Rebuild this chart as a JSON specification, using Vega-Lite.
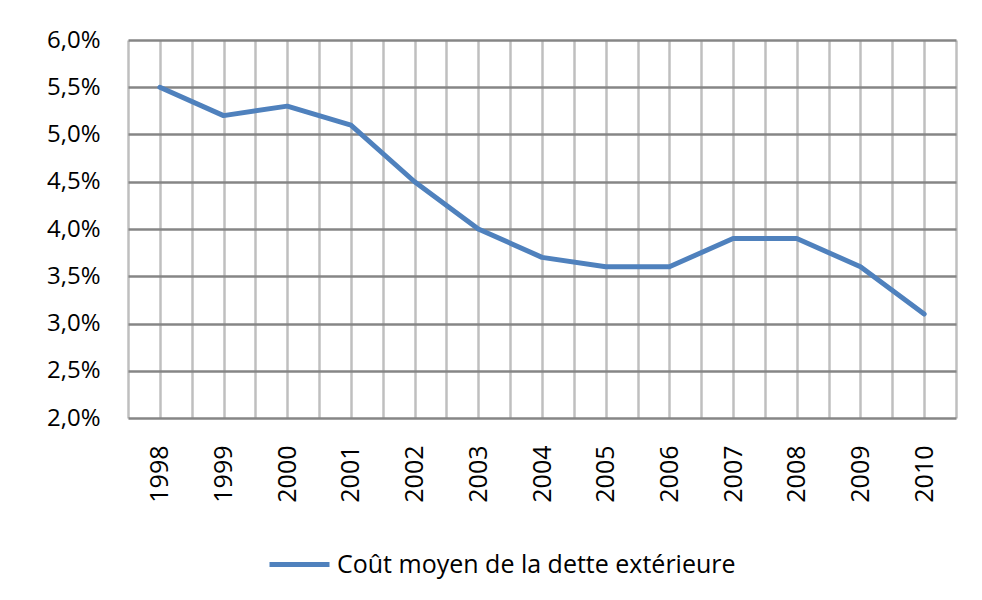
{
  "$schema": "https://vega.github.io/schema/vega-lite/v6.json",
  "width": 828,
  "height": 378,
  "autosize": {"type": "none"},
  "padding": {"left": 128, "top": 40, "right": 26, "bottom": 182},
  "background": "white",
  "config": {
    "view": {"stroke": null},
    "font": "Open Sans"
  },
  "data": {
    "values": [
      {"year": 1998, "cost": 0.055, "series": "Coût moyen de la dette extérieure"},
      {"year": 1999, "cost": 0.052, "series": "Coût moyen de la dette extérieure"},
      {"year": 2000, "cost": 0.053, "series": "Coût moyen de la dette extérieure"},
      {"year": 2001, "cost": 0.051, "series": "Coût moyen de la dette extérieure"},
      {"year": 2002, "cost": 0.045, "series": "Coût moyen de la dette extérieure"},
      {"year": 2003, "cost": 0.040, "series": "Coût moyen de la dette extérieure"},
      {"year": 2004, "cost": 0.037, "series": "Coût moyen de la dette extérieure"},
      {"year": 2005, "cost": 0.036, "series": "Coût moyen de la dette extérieure"},
      {"year": 2006, "cost": 0.036, "series": "Coût moyen de la dette extérieure"},
      {"year": 2007, "cost": 0.039, "series": "Coût moyen de la dette extérieure"},
      {"year": 2008, "cost": 0.039, "series": "Coût moyen de la dette extérieure"},
      {"year": 2009, "cost": 0.036, "series": "Coût moyen de la dette extérieure"},
      {"year": 2010, "cost": 0.031, "series": "Coût moyen de la dette extérieure"}
    ]
  },
  "mark": {"type": "line", "strokeWidth": 5, "strokeCap": "round", "strokeJoin": "round"},
  "encoding": {
    "x": {
      "field": "year",
      "type": "quantitative",
      "scale": {"domain": [1997.5, 2010.5], "nice": false, "zero": false},
      "axis": {
        "title": null,
        "values": [1997.5, 1998, 1998.5, 1999, 1999.5, 2000, 2000.5, 2001, 2001.5, 2002, 2002.5, 2003, 2003.5, 2004, 2004.5, 2005, 2005.5, 2006, 2006.5, 2007, 2007.5, 2008, 2008.5, 2009, 2009.5, 2010, 2010.5],
        "labelExpr": "datum.value % 1 == 0 ? toString(datum.value) : ''",
        "labelAngle": 270,
        "labelAlign": "right",
        "labelBaseline": "middle",
        "labelPadding": 27,
        "labelFontSize": 25,
        "labelColor": "#000000",
        "labelOverlap": false,
        "labelFlush": false,
        "ticks": false,
        "domain": false,
        "grid": true,
        "gridColor": "#bfbfbf",
        "gridWidth": 2.5
      }
    },
    "y": {
      "field": "cost",
      "type": "quantitative",
      "scale": {"domain": [0.02, 0.06], "nice": false, "zero": false},
      "axis": {
        "title": null,
        "values": [0.02, 0.025, 0.03, 0.035, 0.04, 0.045, 0.05, 0.055, 0.06],
        "format": ".1%",
        "labelExpr": "replace(datum.label, '.', ',')",
        "labelPadding": 28,
        "labelFontSize": 24,
        "labelColor": "#000000",
        "ticks": false,
        "domain": false,
        "grid": true,
        "gridColor": "#868686",
        "gridWidth": 2.5,
        "zindex": 0
      }
    },
    "color": {
      "field": "series",
      "type": "nominal",
      "scale": {"range": ["#4f81bd"]},
      "legend": {
        "title": null,
        "orient": "none",
        "legendX": 139,
        "legendY": 492,
        "symbolType": "stroke",
        "symbolSize": 3600,
        "symbolStrokeWidth": 5,
        "labelFontSize": 25,
        "labelColor": "#000000",
        "labelOffset": 5,
        "labelLimit": 600
      }
    }
  }
}
